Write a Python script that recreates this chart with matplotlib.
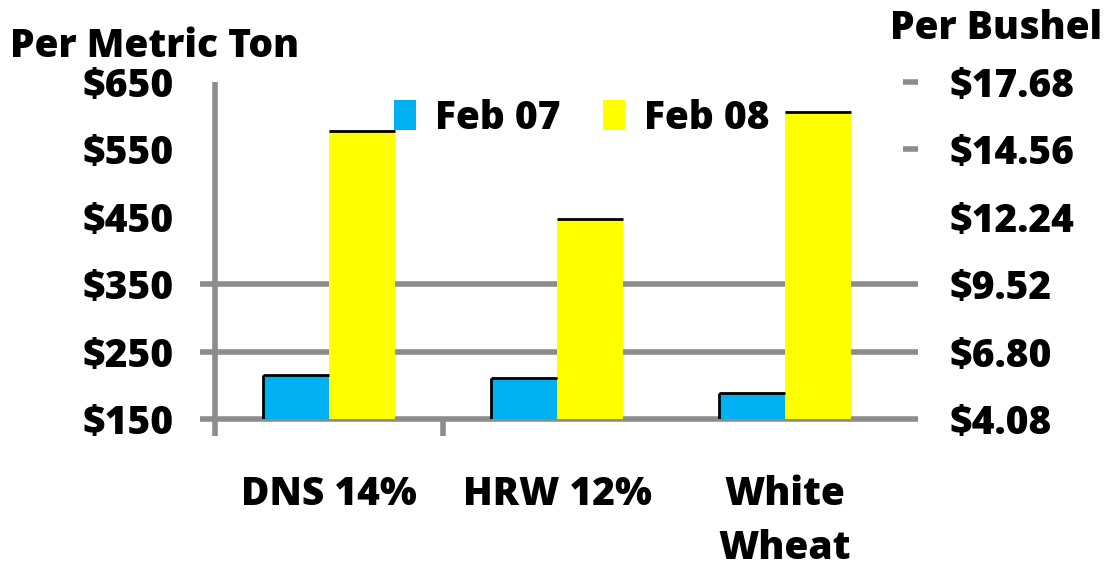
import matplotlib
matplotlib.use("Agg")
import matplotlib.pyplot as plt
import numpy as np
from matplotlib.patches import Patch

categories = ["DNS 14%", "HRW 12%", "White\nWheat"]
series_names = ["Feb 07", "Feb 08"]
feb07 = [215, 211, 189]
feb08 = [577, 446, 606]
left_ticks = [150, 250, 350, 450, 550, 650]
left_labels = ["$150", "$250", "$350", "$450", "$550", "$650"]
right_labels = ["$4.08", "$6.80", "$9.52", "$12.24", "$14.56", "$17.68"]
grid_levels = [150, 250, 350]
right_marks = [550, 650]

BLUE = "#00B0F0"
YELLOW = "#FFFF00"
GRAY = "#8C8C8C"
FONT = "Open Sans"
FS = 28

W, H = 1111, 569
fig = plt.figure(figsize=(W / 100, H / 100), dpi=100)

ax_l, ax_r = 200, 918
ax_t, ax_b = 82, 419
ax = fig.add_axes([ax_l / W, 1 - ax_b / H, (ax_r - ax_l) / W, (ax_b - ax_t) / H])

unit = 228.0
x0 = -0.5 - (215 - ax_l) / unit
x1 = -0.5 + (ax_r - 215) / unit
ax.set_xlim(x0, x1)
ax.set_ylim(150, 650)

for s in ax.spines.values():
    s.set_visible(False)

x = np.arange(len(categories))
bw = 66 / unit
ax.bar(x - bw / 2, np.array(feb07) - 150, bw, bottom=150, color=BLUE, zorder=3, linewidth=0)
ax.bar(x + bw / 2, np.array(feb08) - 150, bw, bottom=150, color=YELLOW, zorder=3, linewidth=0)
ax.hlines(feb07, x - bw, x, color="black", lw=2, zorder=4)
ax.vlines(x - bw, 150, feb07, color="black", lw=2, zorder=4)
ax.hlines(feb08, x, x + bw, color="black", lw=2, zorder=4)

ax.hlines(grid_levels, x0, x1, color=GRAY, lw=4, zorder=2, clip_on=False)
ax.hlines(right_marks, x1 - 15 / unit, x1, color=GRAY, lw=4, zorder=2, clip_on=False)
dpp = 500 / (ax_b - ax_t)
ax.vlines([-0.5], 150 - 17 * dpp, 650, color=GRAY, lw=4, zorder=2, clip_on=False)
ax.vlines([0.5], 150 - 17 * dpp, 150, color=GRAY, lw=4, zorder=2, clip_on=False)

ax.set_yticks(left_ticks)
ax.set_yticklabels(left_labels, fontsize=FS, fontweight="heavy", family=FONT)
ax.tick_params(axis="y", length=0, pad=19)

ax.set_xticks(x)
ax.set_xticklabels(categories, fontsize=FS, fontweight="heavy", family=FONT, linespacing=1.5)
ax.tick_params(axis="x", length=0, pad=40)

ax2 = ax.twinx()
for s in ax2.spines.values():
    s.set_visible(False)
ax2.set_ylim(150, 650)
ax2.set_yticks(left_ticks)
ax2.set_yticklabels(right_labels, fontsize=FS, fontweight="heavy", family=FONT)
ax2.tick_params(axis="y", length=0, pad=23)

handles = [Patch(facecolor=BLUE, edgecolor="none"), Patch(facecolor=YELLOW, edgecolor="none")]
leg = ax.legend(handles, series_names, loc="center",
                bbox_to_anchor=((582 - ax_l) / (ax_r - ax_l), 1 - (118 - ax_t) / (ax_b - ax_t)),
                ncol=2, frameon=False, handlelength=0.55, handleheight=0.8, handletextpad=0.5,
                columnspacing=1.1, borderpad=0.2, prop={"family": FONT, "weight": "heavy", "size": FS})
leg.set_zorder(5)

fig.text(10 / W, 1 - 57 / H, "Per Metric Ton", fontsize=FS, fontweight="heavy", family=FONT, va="baseline", ha="left")
fig.text(1102 / W, 1 - 39 / H, "Per Bushel", fontsize=FS, fontweight="heavy", family=FONT, va="baseline", ha="right")

fig.savefig("out.png", dpi=100)
